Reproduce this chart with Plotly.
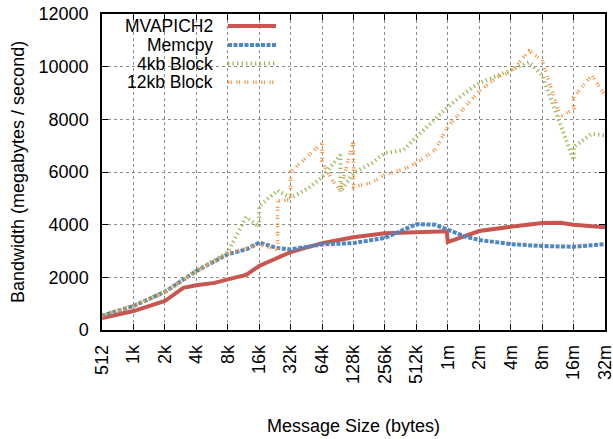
import math
import plotly.graph_objects as go

K = 1024
M = 1024 * 1024

# Message sizes (bytes) and measured bandwidth (MB/s) for each transfer method
mv_size = [512, 1*K, 2*K, 3*K, 4*K, 6*K, 8*K, 12*K, 16*K, 32*K, 64*K, 128*K, 256*K,
           512*K, 1000*K, 1*M, 2*M, 4*M, 8*M, 12*M, 16*M, 32*M]
mv_bw = [450, 720, 1100, 1600, 1700, 1790, 1920, 2090, 2430, 2960, 3300, 3520, 3670,
         3720, 3750, 3340, 3760, 3920, 4060, 4070, 4000, 3900]

memcpy_size = [512, 1*K, 2*K, 4*K, 8*K, 12*K, 16*K, 24*K, 32*K, 64*K, 128*K, 192*K,
               256*K, 384*K, 512*K, 768*K, 1*M, 1536*K, 2*M, 4*M, 8*M, 16*M, 32*M]
memcpy_bw = [540, 910, 1450, 2240, 2880, 3060, 3320, 3110, 3060, 3250, 3300, 3400,
             3500, 3800, 4020, 4000, 3800, 3540, 3420, 3260, 3190, 3160, 3260]

blk4_size = [512, 1*K, 2*K, 4*K, 8*K, 12*K, 16*K, 16*K, 24*K, 32*K, 48*K, 64*K, 96*K,
             96*K, 128*K, 192*K, 256*K, 384*K, 512*K, 1*M, 1536*K, 2*M, 4*M, 6*M, 8*M,
             12*M, 16*M, 16*M, 24*M, 32*M]
blk4_bw = [560, 920, 1450, 2250, 2950, 4290, 3910, 4700, 5300, 5010, 5400, 5800, 6650,
           5250, 5960, 6340, 6720, 6830, 7330, 8470, 9040, 9380, 9870, 10170, 9680,
           7800, 6450, 6950, 7450, 7380]

blk12_size = [512, 1*K, 2*K, 4*K, 8*K, 16*K, 24*K, 24*K, 32*K, 32*K, 64*K, 64*K, 80*K,
              96*K, 128*K, 128*K, 192*K, 256*K, 384*K, 512*K, 768*K, 1*M, 2*M, 3*M, 4*M,
              6*M, 8*M, 12*M, 16*M, 16*M, 24*M, 32*M]
blk12_bw = [540, 920, 1420, 2240, 2900, 3250, 3040, 4900, 4950, 6000, 7100, 6400, 5690,
            5310, 7200, 5430, 5600, 5900, 6100, 6340, 6830, 7710, 9080, 9610, 9800,
            10600, 10250, 8100, 8400, 8850, 9680, 8920]

x_tick_vals = [512 * 2**i for i in range(17)]
x_tick_text = ["512", "1k", "2k", "4k", "8k", "16k", "32k", "64k", "128k", "256k",
               "512k", "1m", "2m", "4m", "8m", "16m", "32m"]
y_tick_vals = [0, 2000, 4000, 6000, 8000, 10000, 12000]
y_tick_text = ["0", "2000", "4000", "6000", "8000", "10000", "12000"]

series = [
    ("MVAPICH2", mv_size, mv_bw, "#c8564f", 4, "solid"),
    ("Memcpy", memcpy_size, memcpy_bw, "#4f86c6", 4, "4px,1.5px"),
    ("4kb Block", blk4_size, blk4_bw, "#9bbb59", 4, "1.3px,3.2px"),
    ("12kb Block", blk12_size, blk12_bw, "#f79646", 3.5, "1.2px,1.4px,1.2px,4.5px"),
]

FONT = "Liberation Sans, Arial, Helvetica, sans-serif"

fig = go.Figure()
for name, xs, ys, color, width, dash in series:
    fig.add_trace(go.Scatter(
        x=xs, y=ys, mode="lines", name=name,
        line=dict(color=color, width=width, dash=dash),
        showlegend=False,
    ))

# Key in the upper-left corner: right-aligned labels with line samples after them
key_x_text = 0.2246
key_x0, key_x1 = 0.2505, 0.3459
key_rows = [0.962, 0.902, 0.843, 0.784]
for (name, _, _, color, width, dash), ky in zip(series, key_rows):
    fig.add_annotation(x=key_x_text, y=ky, xref="paper", yref="paper", text=name,
                       showarrow=False, xanchor="right", yanchor="middle",
                       font=dict(family=FONT, size=17.5, color="black"))
    fig.add_shape(type="line", xref="paper", yref="paper", x0=key_x0, x1=key_x1,
                  y0=ky, y1=ky, line=dict(color=color, width=width, dash=dash))

axis_common = dict(
    showline=True, linecolor="black", linewidth=1.5, mirror="ticks",
    ticks="inside", ticklen=6, tickcolor="black",
    showgrid=True, gridcolor="#8a8a8a", gridwidth=1, griddash="dot",
    zeroline=False, automargin=False, ticklabeloverflow="allow",
    tickfont=dict(family=FONT, size=18, color="black"),
)

fig.update_xaxes(type="log", range=[math.log10(512), math.log10(32 * M)],
                 tickmode="array", tickvals=x_tick_vals, ticktext=x_tick_text,
                 tickangle=-90, ticklabelstandoff=6, **axis_common)
fig.update_yaxes(range=[0, 12000], tickmode="array",
                 tickvals=y_tick_vals, ticktext=y_tick_text,
                 ticklabelstandoff=8, **axis_common)

fig.add_annotation(x=0.5, y=-0.305, xref="paper", yref="paper",
                   text="Message Size (bytes)", showarrow=False,
                   xanchor="center", yanchor="middle",
                   font=dict(family=FONT, size=18, color="black"))
fig.add_annotation(x=-0.167, y=0.5, xref="paper", yref="paper",
                   text="Bandwidth (megabytes / second)", showarrow=False,
                   textangle=-90, xanchor="center", yanchor="middle",
                   font=dict(family=FONT, size=18, color="black"))

fig.update_layout(
    width=613, height=439,
    margin=dict(l=102, r=8, t=14, b=109),
    plot_bgcolor="white", paper_bgcolor="white",
)

fig.write_html("out.html")
